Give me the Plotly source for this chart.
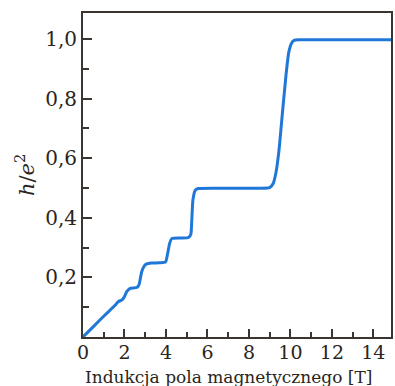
import plotly.graph_objects as go

# Magnetic field B [T] and Hall resistance in units of h/e^2
B = [0.0, 0.5, 1.06, 1.5, 1.71, 1.87, 1.97, 2.11, 2.27, 2.59, 2.7, 2.83, 2.95, 3.07,
     3.3, 3.7, 3.98, 4.08, 4.18, 4.28, 4.7, 5.09, 5.2, 5.25, 5.3, 5.41, 5.55, 7.0,
     8.5, 9.0, 9.17, 9.3, 9.44, 9.6, 9.79, 9.92, 10.05, 10.18, 10.4, 12.0, 14.85]
R = [0.0, 0.035, 0.074, 0.103, 0.119, 0.124, 0.132, 0.152, 0.163, 0.166, 0.175, 0.219,
     0.238, 0.245, 0.248, 0.249, 0.252, 0.28, 0.315, 0.33, 0.332, 0.334, 0.345, 0.4,
     0.46, 0.492, 0.498, 0.499, 0.499, 0.501, 0.515, 0.55, 0.62, 0.74, 0.88, 0.955,
     0.985, 0.995, 0.997, 0.997, 0.997]

x_ticks = [0, 2, 4, 6, 8, 10, 12, 14]
x_ticklabels = ["0", "2", "4", "6", "8", "10", "12", "14"]
y_ticks = [0.2, 0.4, 0.6, 0.8, 1.0]
y_ticklabels = ["0,2", "0,4", "0,6", "0,8", "1,0"]

axis_color = "#3a3530"
font_family = "DejaVu Serif"

fig = go.Figure()
fig.add_trace(go.Scatter(
    x=B, y=R, mode="lines",
    line=dict(color="#1f78d8", width=3, shape="spline", smoothing=0.5),
    hoverinfo="skip", showlegend=False,
))

fig.update_layout(
    width=395, height=386,
    margin=dict(l=83, r=4, t=13, b=49, autoexpand=False),
    paper_bgcolor="white", plot_bgcolor="white",
    font=dict(family=font_family, size=20, color="#2a2520"),
    xaxis=dict(
        range=[0, 14.85], tickvals=x_ticks, ticktext=x_ticklabels,
        ticks="inside", ticklen=8, tickwidth=1.5, tickcolor=axis_color,
        showline=True, linecolor=axis_color, linewidth=2, mirror=True,
        showgrid=False, zeroline=False, automargin=False,
        ticklabelstandoff=-3, tickfont=dict(size=19),
        minor=dict(ticks="inside", ticklen=5, tickwidth=1.5, tickcolor=axis_color,
                   tickvals=[1, 3, 5, 7, 9, 11, 13], showgrid=False),
    ),
    yaxis=dict(
        range=[0, 1.087], tickvals=y_ticks, ticktext=y_ticklabels,
        ticks="inside", ticklen=9, tickwidth=1.5, tickcolor=axis_color,
        showline=True, linecolor=axis_color, linewidth=2, mirror=True,
        showgrid=False, zeroline=False, automargin=False,
        minor=dict(ticks="inside", ticklen=6, tickwidth=1.5, tickcolor=axis_color,
                   tickvals=[0.1, 0.3, 0.5, 0.7, 0.9], showgrid=False),
    ),
    annotations=[
        dict(text="<i>h</i>/<i>e</i><sup>2</sup>", xref="paper", yref="paper",
             x=-0.188, y=0.5, xanchor="center", yanchor="middle", textangle=-90,
             showarrow=False, font=dict(family=font_family, size=21)),
        dict(text="Indukcja pola magnetycznego [T]", xref="paper", yref="paper",
             x=0.0, y=-0.124, xanchor="left", yanchor="middle",
             showarrow=False, font=dict(family=font_family, size=17)),
    ],
)

fig.write_html("out.html", config={"displayModeBar": False},
               post_script="document.body.style.margin='0';")
